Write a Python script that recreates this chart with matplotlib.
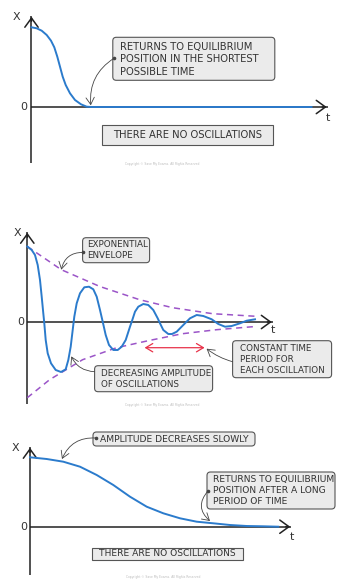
import matplotlib
matplotlib.use("Agg")
import matplotlib.pyplot as plt
from matplotlib.patches import FancyBboxPatch

# Figure size in pixels
W, H = 356, 581

# Panel 1 - critical damping (t, x in arbitrary units)
crit_t = [0, 0.52, 1.02, 1.52, 1.95, 2.28, 2.58, 2.85, 3.12, 3.42, 3.85, 4.35,
          4.95, 5.52, 6.02, 28.0]
crit_x = [7.97, 7.87, 7.63, 7.2, 6.63, 5.97, 5.03, 4.03, 3.03, 2.2, 1.37, 0.7,
          0.27, 0.03, 0, 0]

# Panel 2 - light damping
light_t = [0, 0.44, 0.77, 1.04, 1.27, 1.44, 1.6, 1.7, 1.84, 2.04, 2.37, 2.84,
           3.37, 3.84, 4.1, 4.34, 4.54, 4.7, 4.94, 5.27, 5.7, 6.17, 6.6, 6.94,
           7.27, 7.54, 7.84, 8.17, 8.6, 9.04, 9.44, 9.84, 10.27, 10.5, 10.77,
           11.1, 11.6, 12.1, 12.6, 13.04, 13.27, 13.6, 14.1, 14.47, 14.94, 15.6,
           16.27, 16.94, 17.6, 18.44, 19.1, 19.77, 20.44, 21.27, 21.94, 22.77]
light_x = [7.55, 7.2, 6.7, 5.7, 4.2, 2.53, 0.87, -0.13, -1.8, -3.13, -4.13, -4.8,
           -5.0, -4.73, -3.8, -2.47, -0.8, 0.53, 1.87, 2.87, 3.47, 3.53, 3.27,
           2.53, 1.2, 0.03, -1.3, -2.3, -2.8, -2.8, -2.47, -1.8, -0.47, 0.2,
           1.03, 1.53, 1.8, 1.7, 1.2, 0.37, -0.13, -0.8, -1.2, -1.2, -0.97, -0.3,
           0.37, 0.7, 0.6, 0.27, -0.2, -0.47, -0.4, -0.13, 0.13, 0.27]
env_up_t = [0, 3.4, 7.23, 11.23, 14.53, 18.53, 23.03]
env_up_x = [7.55, 5.23, 3.56, 2.23, 1.43, 0.83, 0.56]
env_lo_t = [0, 2.23, 5.53, 8.93, 12.23, 15.53, 18.93, 22.93]
env_lo_x = [-7.57, -5.77, -3.77, -2.57, -1.84, -1.17, -0.77, -0.44]

# Panel 3 - heavy damping
heavy_t = [0, 1.67, 3.33, 5.0, 6.67, 8.33, 10.0, 11.67, 13.33, 15.0, 16.67,
           18.33, 20.0, 21.67, 23.33, 24.83]
heavy_x = [6.94, 6.77, 6.5, 6.0, 5.17, 4.17, 3.0, 2.0, 1.34, 0.84, 0.5, 0.34,
           0.17, 0.07, 0.04, 0]

BLUE = '#2b7bcc'
PURPLE = '#9b55c8'
RED = '#e8334a'
AXC = '#222222'
TXT = '#333333'

fig = plt.figure(figsize=(W / 100, H / 100), dpi=100, facecolor='white')


def make_panel(ox, oy, top, bottom):
    # axes spanning a horizontal band, 10 px per data unit, origin at (ox, oy) px
    ax = fig.add_axes([0, 1 - bottom / H, 1, (bottom - top) / H])
    ax.set_xlim(-ox / 10, (W - ox) / 10)
    ax.set_ylim((oy - bottom) / 10, (oy - top) / 10)
    ax.axis('off')
    return ax


def axes_arrows(ax, ybot, ytop, tend):
    ax.plot([0, 0], [ybot, ytop - 0.2], color=AXC, lw=1.1, solid_capstyle='butt')
    ax.annotate('', xy=(0, ytop), xytext=(0, ytop - 1),
                arrowprops=dict(arrowstyle='->,head_length=0.55,head_width=0.4',
                                color=AXC, lw=1.1, mutation_scale=12))
    ax.plot([0, tend - 0.2], [0, 0], color=AXC, lw=1.1, solid_capstyle='butt')
    ax.annotate('', xy=(tend, 0), xytext=(tend - 1, 0),
                arrowprops=dict(arrowstyle='->,head_length=0.55,head_width=0.4',
                                color=AXC, lw=1.1, mutation_scale=12))


def label_box(ax, x0, x1, y0, y1, text, tx, ty, size, ls, rounded=True,
              ha='left'):
    style = 'round,pad=0,rounding_size=0.35' if rounded else 'square,pad=0'
    ax.add_patch(FancyBboxPatch((x0, y0), x1 - x0, y1 - y0, boxstyle=style,
                                fc='#ebebeb', ec='#555555', lw=0.8, zorder=4))
    ax.text(tx, ty, text, ha=ha, va='center', fontsize=size, color=TXT,
            linespacing=ls, zorder=5)


def pointer(ax, start, end, rad, dot=True):
    ax.annotate('', xy=end, xytext=start,
                arrowprops=dict(arrowstyle='->,head_length=0.5,head_width=0.3',
                                color='#444444', lw=0.6, mutation_scale=10,
                                connectionstyle='arc3,rad=%s' % rad,
                                shrinkA=0, shrinkB=0), zorder=6)
    if dot:
        ax.plot(start[0], start[1], 'o', ms=1.6, color='#444444', zorder=6)


def axis_labels(ax, xlab, zero, tlab, size=8):
    ax.text(xlab[0], xlab[1], 'X', fontsize=size, color=TXT, ha='center', va='center')
    ax.text(zero[0], zero[1], '0', fontsize=size, color=TXT, ha='center', va='center')
    ax.text(tlab[0], tlab[1], 't', fontsize=size, color=TXT, ha='center', va='center')


def copyright(ax, t, x):
    ax.text(t, x, 'Copyright © Save My Exams. All Rights Reserved', fontsize=2.2,
            color='#bbbbbb', ha='center', va='center')


# Panel 1
ax1 = make_panel(31.5, 107, 0, 190)
axes_arrows(ax1, -5.63, 9.3, 29.8)
ax1.plot(crit_t, crit_x, color=BLUE, lw=1.4, zorder=3)
axis_labels(ax1, (-1.5, 8.97), (-0.77, 0), (29.6, -1.1))
label_box(ax1, 8.13, 24.33, 2.67, 6.97,
          'RETURNS TO EQUILIBRIUM\nPOSITION IN THE SHORTEST\nPOSSIBLE TIME',
          8.83, 4.77, 7.2, 1.3)
pointer(ax1, (8.24, 4.87), (5.93, 0.17), 0.3)
label_box(ax1, 7.03, 24.13, -3.83, -1.83, 'THERE ARE NO OSCILLATIONS',
          15.58, -2.83, 7.2, 1.2, rounded=False, ha='center')
copyright(ax1, 13.1, -5.73)

# Panel 2
ax2 = make_panel(27.3, 322, 190, 420)
axes_arrows(ax2, -8.17, 9.2, 24.73)
ax2.plot(env_up_t, env_up_x, color=PURPLE, lw=1.1, dashes=(4, 3), zorder=2)
ax2.plot(env_lo_t, env_lo_x, color=PURPLE, lw=1.1, dashes=(4, 3), zorder=2)
ax2.plot(light_t, light_x, color=BLUE, lw=1.4, zorder=3)
axis_labels(ax2, (-0.94, 8.9), (-0.7, 0), (24.56, -0.77))
label_box(ax2, 5.53, 12.23, 5.93, 8.43, 'EXPONENTIAL\nENVELOPE',
          6.03, 7.18, 6.3, 1.25)
pointer(ax2, (5.56, 6.96), (3.4, 5.23), 0.4)
label_box(ax2, 6.73, 18.53, -6.97, -4.37, 'DECREASING AMPLITUDE\nOF OSCILLATIONS',
          7.33, -5.67, 6.3, 1.25)
pointer(ax2, (6.73, -4.97), (4.4, -3.44), -0.3, dot=False)
ax2.annotate('', xy=(17.73, -2.57), xytext=(11.73, -2.57),
             arrowprops=dict(arrowstyle='<->,head_length=0.5,head_width=0.3',
                             color=RED, lw=0.9, mutation_scale=10,
                             shrinkA=0, shrinkB=0))
label_box(ax2, 20.53, 30.43, -5.57, -1.87,
          'CONSTANT TIME\nPERIOD FOR\nEACH OSCILLATION',
          21.23, -3.77, 6.3, 1.25)
pointer(ax2, (20.53, -3.97), (17.93, -2.67), -0.1, dot=False)
copyright(ax2, 13.53, -8.27)

# Panel 3
ax3 = make_panel(30, 526.7, 420, 581)
axes_arrows(ax3, -4.83, 8.17, 26.3)
ax3.plot(heavy_t, heavy_x, color=BLUE, lw=1.4, zorder=3)
axis_labels(ax3, (-1.5, 7.84), (-0.67, 0), (26.17, -1.0))
label_box(ax3, 6.3, 22.5, 8.07, 9.47, 'AMPLITUDE DECREASES SLOWLY',
          7.0, 8.77, 6.6, 1.2)
pointer(ax3, (6.6, 8.87), (3.2, 6.77), 0.35)
label_box(ax3, 17.7, 30.5, 1.77, 5.47,
          'RETURNS TO EQUILIBRIUM\nPOSITION AFTER A LONG\nPERIOD OF TIME',
          18.3, 3.62, 6.6, 1.25)
pointer(ax3, (17.8, 3.57), (18.0, 0.57), 0.5)
label_box(ax3, 6.2, 21.3, -3.33, -2.13, 'THERE ARE NO OSCILLATIONS',
          13.75, -2.73, 6.6, 1.2, rounded=False, ha='center')
copyright(ax3, 13.3, -5.03)

fig.savefig('out.png', dpi=100, facecolor='white')
